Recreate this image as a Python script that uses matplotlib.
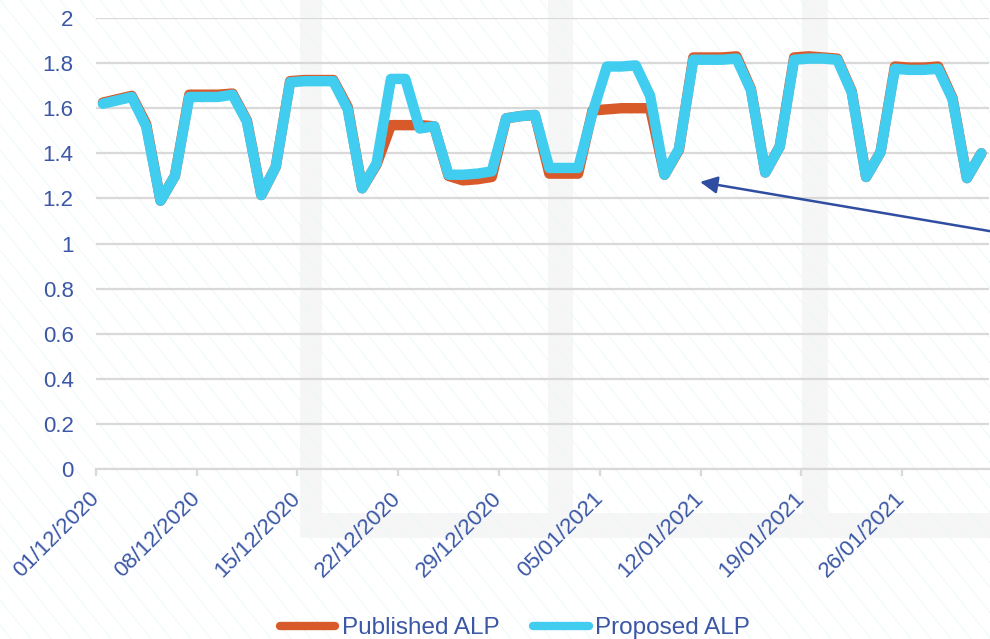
import matplotlib.pyplot as plt
import numpy as np
import pandas as pd

# daily values, 01/12/2020 .. 31/01/2021
dates = pd.date_range("2020-12-01", "2021-01-31", freq="D")

proposed = [1.62, 1.635, 1.65, 1.52, 1.19, 1.30, 1.65, 1.65, 1.65, 1.66,
            1.54, 1.215, 1.34, 1.715, 1.72, 1.72, 1.72, 1.595, 1.245, 1.355,
            1.73, 1.73, 1.51, 1.52, 1.305, 1.305, 1.31, 1.32, 1.555, 1.565,
            1.57, 1.335, 1.335, 1.335, 1.58, 1.785, 1.785, 1.79, 1.655, 1.305,
            1.42, 1.815, 1.815, 1.815, 1.82, 1.68, 1.315, 1.43, 1.815, 1.82,
            1.82, 1.815, 1.67, 1.295, 1.405, 1.775, 1.77, 1.77, 1.775, 1.64,
            1.29, 1.40]

published = [1.625, 1.64, 1.655, 1.53, 1.19, 1.30, 1.66, 1.66, 1.66, 1.665,
             1.545, 1.215, 1.34, 1.72, 1.725, 1.725, 1.725, 1.605, 1.245, 1.35,
             1.525, 1.525, 1.525, 1.52, 1.30, 1.28, 1.285, 1.295, 1.555, 1.565,
             1.57, 1.31, 1.31, 1.31, 1.59, 1.595, 1.60, 1.60, 1.60, 1.305,
             1.415, 1.825, 1.825, 1.825, 1.83, 1.685, 1.315, 1.43, 1.825, 1.83,
             1.825, 1.82, 1.675, 1.295, 1.405, 1.785, 1.78, 1.78, 1.785, 1.645,
             1.29, 1.40]

tick_every = 7
label_color = "#3B57A5"
grid_color = "#D9D9D9"
red = "#D85A2A"
blue = "#41CDF0"

plt.rcParams["font.family"] = ["Liberation Sans", "DejaVu Sans"]

fig = plt.figure(figsize=(9.9, 6.39), dpi=100)

# background: faint diagonal hatch and grey panel shadows (pixel coords)
bg = fig.add_axes([0, 0, 1, 1], zorder=-5)
bg.set_xlim(0, 990)
bg.set_ylim(639, 0)
bg.axis("off")
for c in range(-600, 1000, 20):
    bg.plot([c, c + 0.8 * 639], [0, 639], color="#EAF7FA", lw=0.6)
shade = "#F6F6F6"
bg.fill_between([300, 322], 0, 538, color=shade, lw=0)
bg.fill_between([300, 990], 513, 538, color=shade, lw=0)
bg.fill_between([548, 573], 0, 513, color=shade, lw=0)
bg.fill_between([802, 828], 0, 513, color=shade, lw=0)

ax = fig.add_axes([0.0967, 0.2660, 0.9018, 0.7058])
ax.set_facecolor("none")

x = np.arange(len(dates)) + 0.5
ax.plot(x, published, color=red, lw=7.5, label="Published ALP",
        solid_joinstyle="round", solid_capstyle="round")
ax.plot(x, proposed, color=blue, lw=7.5, label="Proposed ALP",
        solid_joinstyle="round", solid_capstyle="round")

ax.set_xlim(0, len(dates))
ax.set_ylim(0, 2)
ax.set_yticks(np.arange(0, 2.01, 0.2))
ax.set_yticklabels(["0", "0.2", "0.4", "0.6", "0.8", "1", "1.2", "1.4",
                    "1.6", "1.8", "2"])
ticks = np.arange(0, len(dates), tick_every)
ax.set_xticks(ticks)
ax.set_xticklabels([dates[i].strftime("%d/%m/%Y") for i in ticks],
                   rotation=45, ha="right", va="center", rotation_mode="anchor")

ax.grid(axis="y", color=grid_color, lw=1.6)
ax.set_axisbelow(True)
for s in ["top", "right", "left"]:
    ax.spines[s].set_visible(False)
ax.spines["bottom"].set_color(grid_color)
ax.spines["bottom"].set_linewidth(1.6)
ax.tick_params(axis="y", length=0, pad=16, labelsize=16, labelcolor=label_color)
ax.tick_params(axis="x", length=5, width=1.6, color=grid_color, pad=14,
               labelsize=16, labelcolor=label_color)

ax.annotate("", xy=(41.97, 1.273), xycoords="data",
            xytext=(995, 407), textcoords="figure pixels",
            annotation_clip=False,
            arrowprops=dict(arrowstyle="-|>", color="#2F4EA2", lw=1.8,
                            mutation_scale=26, shrinkA=0, shrinkB=0))

leg = fig.legend(loc="center", bbox_to_anchor=(0.52, 0.017), ncol=2,
                 frameon=False, fontsize=17.5, handlelength=2.3,
                 handletextpad=0.25, columnspacing=1.4)
for t in leg.get_texts():
    t.set_color(label_color)
for h in leg.get_lines():
    h.set_linewidth(6)

fig.savefig("out.png", dpi=100)
